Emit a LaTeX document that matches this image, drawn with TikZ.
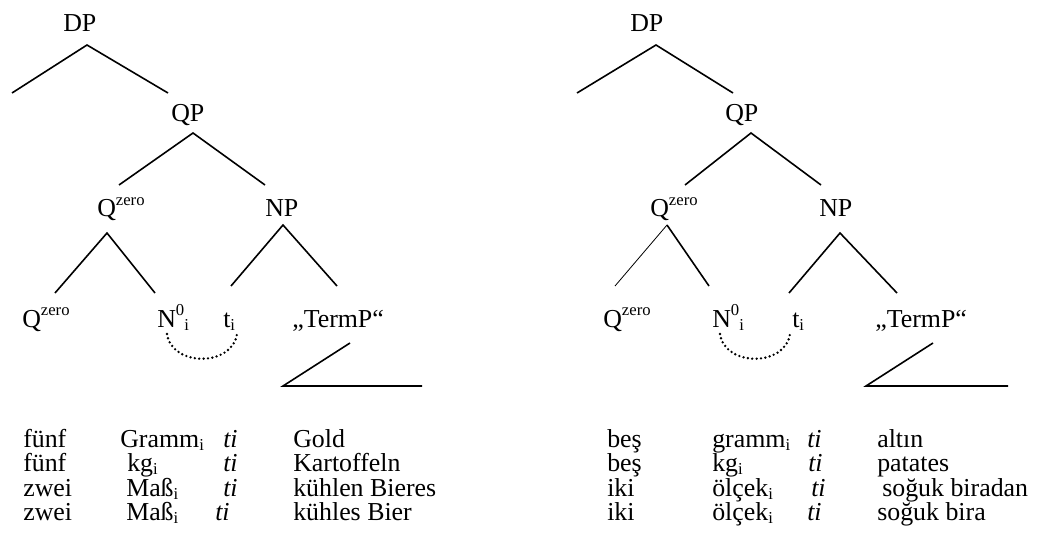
\documentclass[tikz,border=0pt]{standalone}
\usepackage{fontspec}
\setmainfont{Liberation Serif}
\newcommand{\mysup}[1]{\raisebox{0.45em}{\fontsize{12.5}{12}\selectfont #1}}
\newcommand{\mysub}[1]{\raisebox{-0.12em}{\fontsize{12.5}{12}\selectfont #1}}
\begin{document}
\begin{tikzpicture}[x=0.75pt,y=-0.75pt,
  lbl/.style={inner sep=0pt,anchor=base west,font=\fontsize{19.4}{22}\selectfont},
  branch/.style={line width=1.2pt},
  thinbranch/.style={line width=0.6pt},
  trace/.style={line width=2pt,line cap=round,dash pattern=on 0pt off 3.3pt}]
\useasboundingbox (0,0) rectangle (1037,545);

% ---------------- left tree ----------------
\node[lbl] (lDP) at (63,32) {DP};
\node[lbl] (lQP) at (171,122) {QP};
\node[lbl] (lQz) at (97,217) {Q\mysup{zero}};
\node[lbl] (lNP) at (265,217) {NP};
\node[lbl] (lQzz) at (22,327) {Q\mysup{zero}};
\node[lbl] (lN) at (157,327) {N\mysup{0}\mysub{i}};
\node[lbl] (lt) at (223,327) {t\mysub{i}};
\node[lbl] (lTP) at (292,327) {„TermP“};

\coordinate (lDPa) at (87,45);
\coordinate (lDPl) at (12,93);
\coordinate (lDPr) at (168,93);
\draw[branch] (lDPl) -- (lDPa) -- (lDPr);
\coordinate (lQPa) at (193,133);
\coordinate (lQPl) at (119,185);
\coordinate (lQPr) at (265,185);
\draw[branch] (lQPl) -- (lQPa) -- (lQPr);
\coordinate (lQza) at (107,233);
\coordinate (lQzl) at (55,293);
\coordinate (lQzr) at (155,293);
\draw[branch] (lQzl) -- (lQza) -- (lQzr);
\coordinate (lNPa) at (283,225);
\coordinate (lNPl) at (231,286);
\coordinate (lNPr) at (337,286);
\draw[branch] (lNPl) -- (lNPa) -- (lNPr);
\coordinate (lArcS) at (167,334);
\coordinate (lArcE) at (237,334);
\draw[trace] (lArcS) .. controls (172,367) and (232,367) .. (lArcE);
\coordinate (lTri1) at (350,343);
\coordinate (lTri2) at (283,386);
\coordinate (lTri3) at (422,386);
\draw[branch] (lTri1) -- (lTri2) -- (lTri3);

% ---------------- right tree ----------------
\node[lbl] (rDP) at (630,32) {DP};
\node[lbl] (rQP) at (725,122) {QP};
\node[lbl] (rQz) at (650,217) {Q\mysup{zero}};
\node[lbl] (rNP) at (819,217) {NP};
\node[lbl] (rQzz) at (603,327) {Q\mysup{zero}};
\node[lbl] (rN) at (712,327) {N\mysup{0}\mysub{i}};
\node[lbl] (rt) at (792,327) {t\mysub{i}};
\node[lbl] (rTP) at (875,327) {„TermP“};

\coordinate (rDPa) at (656,45);
\coordinate (rDPl) at (577,93);
\coordinate (rDPr) at (733,93);
\draw[branch] (rDPl) -- (rDPa) -- (rDPr);
\coordinate (rQPa) at (751,133);
\coordinate (rQPl) at (685,185);
\coordinate (rQPr) at (821,185);
\draw[branch] (rQPl) -- (rQPa) -- (rQPr);
\coordinate (rQza) at (667,225);
\coordinate (rQzl) at (615,286);
\coordinate (rQzr) at (709,286);
\draw[thinbranch] (rQzl) -- (rQza);
\draw[branch] (rQza) -- (rQzr);
\coordinate (rNPa) at (840,233);
\coordinate (rNPl) at (789,293);
\coordinate (rNPr) at (897,293);
\draw[branch] (rNPl) -- (rNPa) -- (rNPr);
\coordinate (rArcS) at (720,334);
\coordinate (rArcE) at (790,334);
\draw[trace] (rArcS) .. controls (725,367) and (785,367) .. (rArcE);
\coordinate (rTri1) at (933,343);
\coordinate (rTri2) at (866,386);
\coordinate (rTri3) at (1008,386);
\draw[branch] (rTri1) -- (rTri2) -- (rTri3);

% ---------------- left table ----------------
\node[lbl] (la1) at (23,447) {fünf};
\node[lbl] (lb1) at (120,447) {Gramm\mysub{i}};
\node[lbl] (lc1) at (223,447) {\textit{ti}};
\node[lbl] (ld1) at (293,447) {Gold};
\node[lbl] (la2) at (23,471.5) {fünf};
\node[lbl] (lb2) at (127,471.5) {kg\mysub{i}};
\node[lbl] (lc2) at (223,471.5) {\textit{ti}};
\node[lbl] (ld2) at (293,471.5) {Kartoffeln};
\node[lbl] (la3) at (23,496) {zwei};
\node[lbl] (lb3) at (126,496) {Maß\mysub{i}};
\node[lbl] (lc3) at (223,496) {\textit{ti}};
\node[lbl] (ld3) at (293,496) {kühlen Bieres};
\node[lbl] (la4) at (23,520.5) {zwei};
\node[lbl] (lb4) at (126,520.5) {Maß\mysub{i}};
\node[lbl] (lc4) at (215,520.5) {\textit{ti}};
\node[lbl] (ld4) at (293,520.5) {kühles Bier};

% ---------------- right table ----------------
\node[lbl] (ra1) at (607,447) {beş};
\node[lbl] (rb1) at (712,447) {gramm\mysub{i}};
\node[lbl] (rc1) at (807,447) {\textit{ti}};
\node[lbl] (rd1) at (877,447) {altın};
\node[lbl] (ra2) at (607,471.5) {beş};
\node[lbl] (rb2) at (712,471.5) {kg\mysub{i}};
\node[lbl] (rc2) at (808,471.5) {\textit{ti}};
\node[lbl] (rd2) at (877,471.5) {patates};
\node[lbl] (ra3) at (607,496) {iki};
\node[lbl] (rb3) at (712,496) {ölçek\mysub{i}};
\node[lbl] (rc3) at (811,496) {\textit{ti}};
\node[lbl] (rd3) at (882,496) {soğuk biradan};
\node[lbl] (ra4) at (607,520.5) {iki};
\node[lbl] (rb4) at (712,520.5) {ölçek\mysub{i}};
\node[lbl] (rc4) at (807,520.5) {\textit{ti}};
\node[lbl] (rd4) at (877,520.5) {soğuk bira};
\end{tikzpicture}
\end{document}
